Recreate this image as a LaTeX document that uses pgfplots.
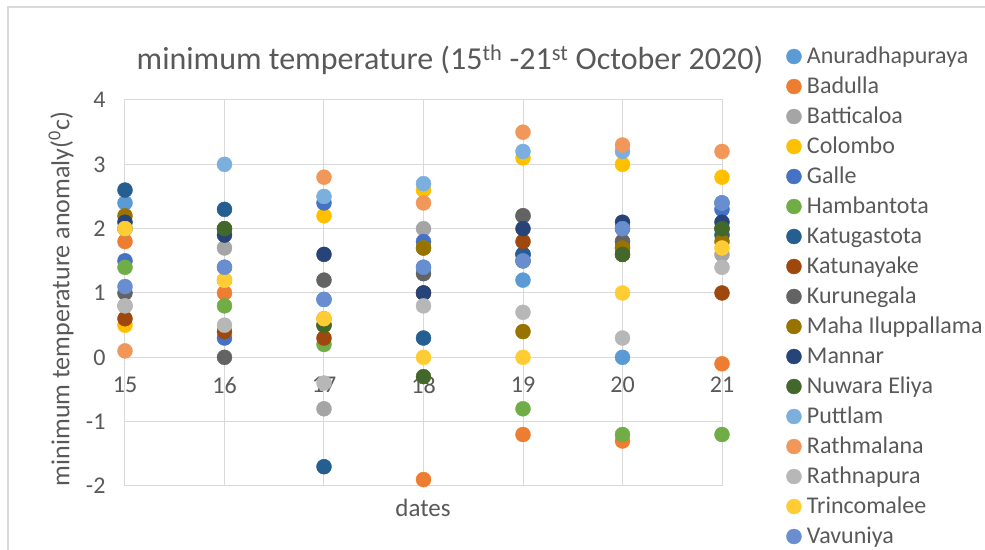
\documentclass[border=0pt]{standalone}
\usepackage{fontspec}
\setmainfont{Carlito}
\usepackage{pgfplots}
\usepackage{pgfplotstable}
\pgfplotsset{compat=1.18}
\definecolor{txt}{HTML}{595959}
\definecolor{grd}{HTML}{D9D9D9}
\definecolor{c1}{HTML}{5B9BD5}
\definecolor{c2}{HTML}{ED7D31}
\definecolor{c3}{HTML}{A5A5A5}
\definecolor{c4}{HTML}{FFC000}
\definecolor{c5}{HTML}{4472C4}
\definecolor{c6}{HTML}{70AD47}
\definecolor{c7}{HTML}{255E91}
\definecolor{c8}{HTML}{9E480E}
\definecolor{c9}{HTML}{636363}
\definecolor{c10}{HTML}{997300}
\definecolor{c11}{HTML}{264478}
\definecolor{c12}{HTML}{43682B}
\definecolor{c13}{HTML}{7CAFDD}
\definecolor{c14}{HTML}{F1975A}
\definecolor{c15}{HTML}{B7B7B7}
\definecolor{c16}{HTML}{FFCD33}
\definecolor{c17}{HTML}{698ED0}

\pgfplotstableread{
d  s1  s2   s3   s4  s5  s6   s7   s8  s9  s10 s11 s12  s13 s14 s15  s16 s17
15 2.4 1.8  0.8  0.5 1.5 1.4  2.6  0.6 1.0 2.2 2.1 2.0  2.0 0.1 0.8  2.0 1.1
16 1.4 1.0  1.7  1.2 0.3 0.8  2.3  0.4 0.0 2.0 1.9 2.0  3.0 1.2 0.5  1.2 1.4
17 0.9 0.6  -0.8 2.2 2.4 0.2  -1.7 0.3 1.2 0.5 1.6 0.5  2.5 2.8 -0.4 0.6 0.9
18 1.4 -1.9 2.0  2.6 1.8 1.7  0.3  1.0 1.3 1.7 1.0 -0.3 2.7 2.4 0.8  0.0 1.4
19 1.2 -1.2 2.2  3.1 1.6 -0.8 1.6  1.8 2.2 0.4 2.0 1.5  3.2 3.5 0.7  0.0 1.5
20 0.0 -1.3 1.8  3.0 2.0 -1.2 1.7  1.6 1.8 1.7 2.1 1.6  3.2 3.3 0.3  1.0 2.0
21 2.4 -0.1 1.6  2.8 2.3 -1.2 1.9  1.0 2.0 1.8 2.1 2.0  2.4 3.2 1.4  1.7 2.4
}\data

\begin{document}
\begin{tikzpicture}
\begin{axis}[
 name=ax, scale only axis, width=597pt, height=386pt,
 xmin=15, xmax=21, ymin=-2, ymax=4,
 xtick={15,16,...,21}, ytick={-2,-1,...,4},
 axis line style={draw=grd, line width=1pt},
 grid=major, major grid style={draw=grd, line width=1pt},
 major tick length=0pt,
 /pgf/number format/assume math mode=true,
 tick label style={font=\fontsize{24}{28}\selectfont, text=txt},
 yticklabel style={xshift=-16pt},
 xticklabel style={yshift=112.5pt},
 clip=false,
 legend style={draw=none, fill=none, inner sep=0pt, outer sep=0pt, at={(axis description cs:1.108,1.1399)}, anchor=north west, font=\fontsize{24}{28}\selectfont, text=txt, row sep=9pt, column sep=5.5pt, nodes={inner sep=0pt, text height=17pt, text depth=4pt}, cells={anchor=west}},
 legend image code/.code={\path[draw=none,fill=none] (-7.5pt,-8pt) rectangle (7.5pt,8pt); \draw[mark size=7.5pt] plot coordinates {(0pt,0pt)};},
 every axis plot/.append style={only marks, mark=*, mark size=7.5pt},
]
\addplot[c1] table[x=d,y=s1]{\data}; \addlegendentry{Anuradhapuraya}
\addplot[c2] table[x=d,y=s2]{\data}; \addlegendentry{Badulla}
\addplot[c3] table[x=d,y=s3]{\data}; \addlegendentry{Batticaloa}
\addplot[c4] table[x=d,y=s4]{\data}; \addlegendentry{Colombo}
\addplot[c5] table[x=d,y=s5]{\data}; \addlegendentry{Galle}
\addplot[c6] table[x=d,y=s6]{\data}; \addlegendentry{Hambantota}
\addplot[c7] table[x=d,y=s7]{\data}; \addlegendentry{Katugastota}
\addplot[c8] table[x=d,y=s8]{\data}; \addlegendentry{Katunayake}
\addplot[c9] table[x=d,y=s9]{\data}; \addlegendentry{Kurunegala}
\addplot[c10] table[x=d,y=s10]{\data}; \addlegendentry{Maha Iluppallama}
\addplot[c11] table[x=d,y=s11]{\data}; \addlegendentry{Mannar}
\addplot[c12] table[x=d,y=s12]{\data}; \addlegendentry{Nuwara Eliya}
\addplot[c13] table[x=d,y=s13]{\data}; \addlegendentry{Puttlam}
\addplot[c14] table[x=d,y=s14]{\data}; \addlegendentry{Rathmalana}
\addplot[c15] table[x=d,y=s15]{\data}; \addlegendentry{Rathnapura}
\addplot[c16] table[x=d,y=s16]{\data}; \addlegendentry{Trincomalee}
\addplot[c17] table[x=d,y=s17]{\data}; \addlegendentry{Vavuniya}
\draw[grd, line width=1.2pt] (axis description cs:-0.196,-0.1658) -- (axis description cs:-0.196,1.2409) -- (axis description cs:1.4405,1.2409);
\node[text=txt, font=\fontsize{32}{38}\selectfont] at (axis description cs:0.5444,1.1036) {minimum temperature (15\textsuperscript{th} -21\textsuperscript{st} October 2020)};
\node[text=txt, font=\fontsize{26}{30}\selectfont, rotate=90] at (axis description cs:-0.1072,0.4845) {minimum temperature anomaly(\textsuperscript{0}c)};
\node[text=txt, font=\fontsize{25}{30}\selectfont] at (axis description cs:0.4992,-0.057) {dates};
\coordinate (fsw) at (axis description cs:-0.20938,-0.16580);
\coordinate (fne) at (axis description cs:1.44054,1.25907);
\end{axis}
\pgfresetboundingbox
\path[use as bounding box] (fsw) rectangle (fne);
\end{tikzpicture}
\end{document}
